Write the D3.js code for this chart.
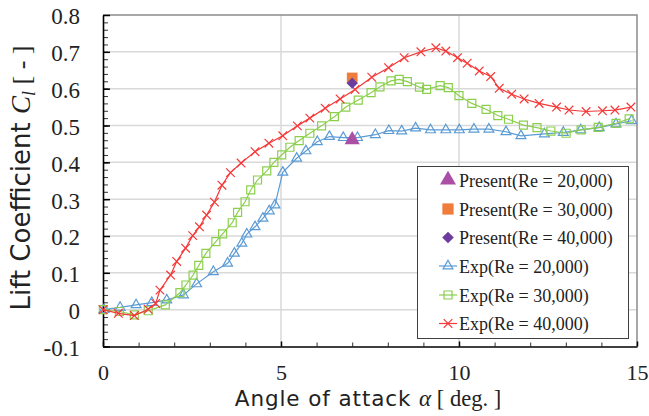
<!DOCTYPE html>
<html>
<head>
<meta charset="utf-8">
<script src="https://cdn.jsdelivr.net/npm/d3@7"></script>
<style>
  body { margin: 0; background: #fff; }
  svg { display: block; }
</style>
</head>
<body>
<div id="chart"></div>
<script>
// experiment, Re = 20,000
const exp20Alpha = [0.03, 0.48, 0.93, 1.37, 1.79, 2.26, 2.63, 3.1, 3.5, 3.69, 3.9, 4.04, 4.27, 4.49, 4.67, 4.83, 5.05, 5.44, 5.7, 6.02, 6.36, 6.75, 7.15, 7.65, 8.03, 8.39, 8.78, 9.2, 9.63, 10.01, 10.42, 10.84, 11.32, 11.74, 12.4, 12.93, 13.42, 13.94, 14.41, 14.85];
const exp20Cl = [0, 0.006, 0.013, 0.019, 0.026, 0.04, 0.07, 0.103, 0.126, 0.153, 0.18, 0.205, 0.225, 0.248, 0.268, 0.284, 0.373, 0.411, 0.431, 0.456, 0.47, 0.467, 0.467, 0.475, 0.486, 0.485, 0.493, 0.488, 0.488, 0.488, 0.49, 0.49, 0.483, 0.472, 0.477, 0.481, 0.488, 0.494, 0.504, 0.513];

// experiment, Re = 30,000
const exp30Alpha = [0.01, 0.46, 0.88, 1.27, 1.75, 2.16, 2.33, 2.53, 2.69, 2.89, 3.17, 3.36, 3.63, 3.78, 3.99, 4.15, 4.34, 4.6, 4.8, 5.02, 5.25, 5.51, 5.81, 6.14, 6.5, 6.82, 7.17, 7.53, 7.78, 8.09, 8.32, 8.55, 8.89, 9.09, 9.47, 9.7, 10.0, 10.36, 10.76, 11.09, 11.39, 11.81, 12.19, 12.58, 13.01, 13.43, 13.91, 14.41, 14.78];
const exp30Cl = [0, -0.005, -0.014, -0.003, 0.013, 0.046, 0.067, 0.094, 0.12, 0.153, 0.185, 0.206, 0.236, 0.264, 0.293, 0.325, 0.352, 0.377, 0.4, 0.42, 0.441, 0.459, 0.479, 0.499, 0.524, 0.55, 0.569, 0.589, 0.605, 0.621, 0.625, 0.619, 0.604, 0.598, 0.608, 0.603, 0.581, 0.56, 0.544, 0.527, 0.517, 0.501, 0.494, 0.485, 0.479, 0.488, 0.495, 0.506, 0.518];

// experiment, Re = 40,000
const exp40Alpha = [0, 0.43, 0.88, 1.27, 1.48, 1.6, 1.9, 2.07, 2.32, 2.52, 2.71, 2.91, 3.13, 3.34, 3.58, 3.88, 4.27, 4.66, 5.05, 5.46, 5.81, 6.24, 6.66, 7.08, 7.55, 8.02, 8.46, 8.93, 9.35, 9.63, 9.96, 10.23, 10.57, 10.89, 11.13, 11.48, 11.83, 12.25, 12.74, 13.09, 13.57, 14.03, 14.38, 14.83];
const exp40Cl = [0, -0.01, -0.016, 0.001, 0.017, 0.053, 0.094, 0.131, 0.167, 0.201, 0.225, 0.257, 0.292, 0.338, 0.372, 0.398, 0.429, 0.452, 0.472, 0.499, 0.52, 0.547, 0.572, 0.598, 0.631, 0.657, 0.684, 0.7, 0.711, 0.702, 0.684, 0.669, 0.648, 0.633, 0.601, 0.585, 0.572, 0.56, 0.55, 0.542, 0.538, 0.54, 0.542, 0.55];

// present results (single points at 7 deg)
const presentAlpha = [7, 7, 7];
const presentCl = [0.461, 0.629, 0.615];
const presentNames = ["Present(Re = 20,000)", "Present(Re = 30,000)", "Present(Re = 40,000)"];
const expNames = ["Exp(Re = 20,000)", "Exp(Re = 30,000)", "Exp(Re = 40,000)"];

const yTicks = [-0.1, 0, 0.1, 0.2, 0.3, 0.4, 0.5, 0.6, 0.7, 0.8];
const xTicks = [0, 5, 10, 15];

const W = 649, H = 416;
const svg = d3.select("#chart").append("svg")
    .attr("width", W).attr("height", H);

const x = d3.scaleLinear().domain([0, 15]).range([103, 637]);
const y = d3.scaleLinear().domain([-0.1, 0.8]).range([346.5, 15]);

const serif = "'Liberation Serif', 'Times New Roman', serif";
const sans = "'DejaVu Sans', sans-serif";

// diamond = square turned 45 deg
const diamond = {
  draw(ctx, size) {
    const r = Math.sqrt(size / 2);
    ctx.moveTo(0, -r); ctx.lineTo(r, 0); ctx.lineTo(0, r); ctx.lineTo(-r, 0); ctx.closePath();
  }
};

// gridlines
svg.append("g").selectAll("line")
  .data(yTicks.filter(d => d > -0.1 && d < 0.8))
  .join("line")
    .attr("x1", x(0)).attr("x2", x(15))
    .attr("y1", d => y(d)).attr("y2", d => y(d))
    .attr("stroke", "#d9d9d9").attr("stroke-width", 1.5);
svg.append("g").selectAll("line")
  .data([5, 10])
  .join("line")
    .attr("x1", d => x(d)).attr("x2", d => x(d))
    .attr("y1", y(0.8)).attr("y2", y(-0.1))
    .attr("stroke", "#d9d9d9").attr("stroke-width", 1.5);

// frame top / right
svg.append("path")
  .attr("d", `M${x(0)},${y(0.8)}H${x(15)}V${y(-0.1)}`)
  .attr("fill", "none").attr("stroke", "#8c8c8c").attr("stroke-width", 1.5);

// minor ticks
svg.append("g")
  .attr("transform", `translate(${x(0)},0)`)
  .call(d3.axisLeft(y).tickValues(d3.range(-5, 41).map(i => i / 50)).tickSize(-5).tickFormat(""))
  .call(g => g.select(".domain").remove())
  .call(g => g.selectAll("line").attr("stroke", "#333"));
svg.append("g")
  .attr("transform", `translate(0,${y(-0.1)})`)
  .call(d3.axisBottom(x).tickValues(d3.range(1, 15)).tickSize(-4).tickFormat(""))
  .call(g => g.select(".domain").remove())
  .call(g => g.selectAll("line").attr("stroke", "#333"));

// y axis
svg.append("g")
  .attr("transform", `translate(${x(0)},0)`)
  .call(d3.axisLeft(y).tickValues(yTicks).tickSizeInner(-7).tickSizeOuter(0).tickPadding(23)
    .tickFormat(d => d === 0 ? "0" : d.toFixed(1)))
  .call(g => g.select(".domain").attr("stroke", "#000").attr("stroke-width", 1.6))
  .call(g => g.selectAll("line").attr("stroke", "#000").attr("stroke-width", 1.5))
  .call(g => g.selectAll("text").attr("dy", "0.39em")
    .attr("font-family", serif).attr("font-size", 23).attr("fill", "#222"));

// x axis
svg.append("g")
  .attr("transform", `translate(0,${y(-0.1)})`)
  .call(d3.axisBottom(x).tickValues(xTicks).tickSizeInner(-5).tickSizeOuter(0).tickPadding(19))
  .call(g => g.select(".domain").attr("stroke", "#000").attr("stroke-width", 1.6))
  .call(g => g.selectAll("line").attr("stroke", "#000").attr("stroke-width", 1.5))
  .call(g => g.selectAll("text").attr("dy", "0.68em")
    .attr("font-family", serif).attr("font-size", 22).attr("fill", "#222"));

// axis titles
const xt = svg.append("text")
  .attr("x", 368).attr("y", 406)
  .attr("text-anchor", "middle")
  .attr("fill", "#222");
xt.append("tspan").attr("font-family", sans).attr("font-size", 21.5).attr("letter-spacing", 0.9).text("Angle of attack ");
xt.append("tspan").attr("font-family", serif).attr("font-size", 23).attr("font-style", "italic").text("α");
xt.append("tspan").attr("font-family", serif).attr("font-size", 22.5).text(" [ deg. ]");

const yt = svg.append("text")
  .attr("transform", "translate(30,178) rotate(-90)")
  .attr("text-anchor", "middle")
  .attr("fill", "#222");
yt.append("tspan").attr("font-family", sans).attr("font-size", 26).text("Lift Coefficient ");
yt.append("tspan").attr("font-family", serif).attr("font-size", 27).attr("font-style", "italic").text("C");
yt.append("tspan").attr("font-family", serif).attr("font-size", 18).attr("font-style", "italic").attr("dy", 5).text("l");
yt.append("tspan").attr("font-family", serif).attr("font-size", 26).attr("dy", -5).text(" [ - ]");

// experiment series
const expSeries = [
  {name: expNames[0], a: exp20Alpha, c: exp20Cl, color: "#5b9bd5", sym: d3.symbolTriangle, size: 42},
  {name: expNames[1], a: exp30Alpha, c: exp30Cl, color: "#8ccf4d", sym: d3.symbolSquare, size: 64},
  {name: expNames[2], a: exp40Alpha, c: exp40Cl, color: "#f53838", sym: d3.symbolTimes, size: 50}
];

const line = d3.line().x(d => x(d[0])).y(d => y(d[1]));

expSeries.forEach(s => {
  const pts = s.a.map((a, i) => [a, s.c[i]]);
  const g = svg.append("g");
  g.append("path")
    .attr("d", line(pts))
    .attr("fill", "none").attr("stroke", s.color).attr("stroke-width", 1.2);
  g.selectAll("path.m")
    .data(pts)
    .join("path")
      .attr("class", "m")
      .attr("transform", d => `translate(${x(d[0])},${y(d[1])})`)
      .attr("d", d3.symbol(s.sym, s.size))
      .attr("fill", "none").attr("stroke", s.color).attr("stroke-width", 1.2);
});

// present points
const presentSeries = [
  {name: presentNames[0], color: "#ab4ea6", sym: d3.symbolTriangle, size: 100},
  {name: presentNames[1], color: "#f07c3b", sym: d3.symbolSquare, size: 115},
  {name: presentNames[2], color: "#6a3d9f", sym: diamond, size: 62}
];
svg.append("g").selectAll("path")
  .data(presentSeries.map((s, i) => ({...s, a: presentAlpha[i], c: presentCl[i]})))
  .join("path")
    .attr("transform", d => `translate(${x(d.a)},${y(d.c)})`)
    .attr("d", d => d3.symbol(d.sym, d.size)())
    .attr("fill", d => d.color);

// legend
const leg = svg.append("g");
leg.append("rect")
  .attr("x", 417.5).attr("y", 166.5).attr("width", 211).attr("height", 172)
  .attr("fill", "#fff").attr("stroke", "#404040").attr("stroke-width", 1);
const rowY = [180, 209, 237.5, 266, 295, 323.5];
presentSeries.forEach((s, i) => {
  leg.append("path")
    .attr("transform", `translate(448,${rowY[i]})`)
    .attr("d", d3.symbol(s.sym, s.size * 1.1)())
    .attr("fill", s.color);
});
expSeries.forEach((s, i) => {
  const cy = rowY[i + 3];
  leg.append("line").attr("x1", 439).attr("x2", 457).attr("y1", cy).attr("y2", cy)
    .attr("stroke", s.color).attr("stroke-width", 1.2);
  leg.append("path")
    .attr("transform", `translate(448,${cy})`)
    .attr("d", d3.symbol(s.sym, s.size)())
    .attr("fill", "none").attr("stroke", s.color).attr("stroke-width", 1.2);
});
leg.selectAll("text")
  .data(presentNames.concat(expNames))
  .join("text")
    .attr("x", 459).attr("y", (d, i) => rowY[i] + 6.5)
    .attr("font-family", serif).attr("font-size", 18).attr("fill", "#222")
    .text(d => d);
</script>
</body>
</html>
